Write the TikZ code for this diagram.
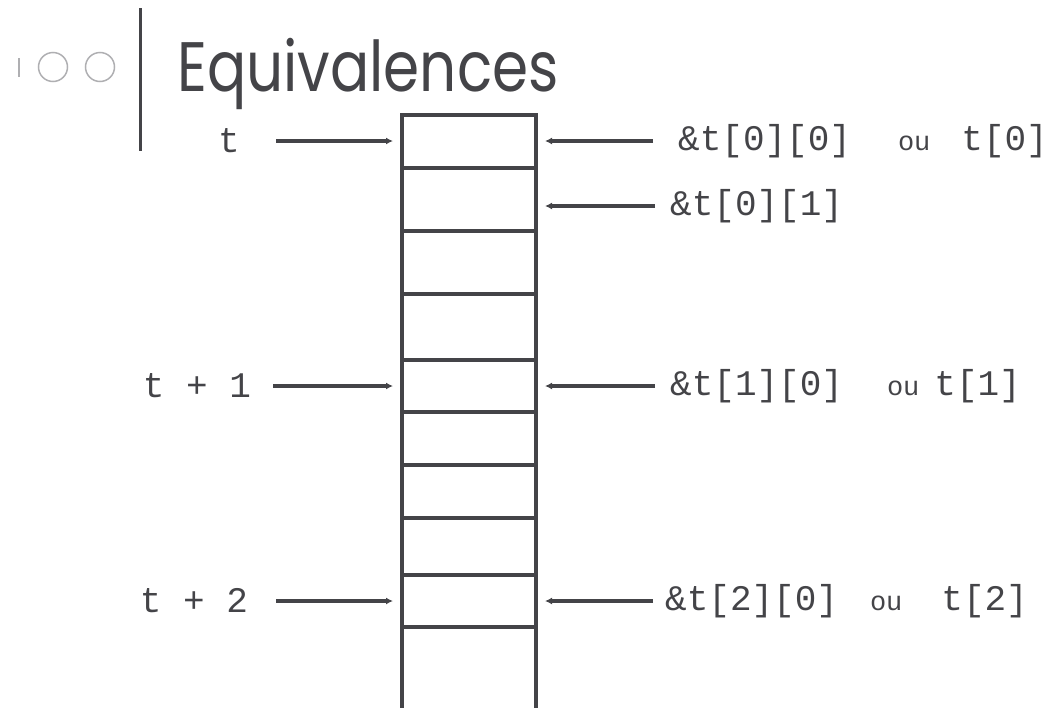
\documentclass[tikz,border=0pt]{standalone}
\usepackage{fontspec}
\setmonofont{Liberation Mono}
\newfontfamily\titlefont{Poppins}
\usetikzlibrary{arrows.meta, positioning}
\definecolor{ink}{RGB}{68,68,72}
\definecolor{deco}{RGB}{175,175,178}
\newcommand{\smallou}{{\fontsize{27}{27}\selectfont ou}}

\begin{document}
\begin{tikzpicture}[
    x=1pt, y=-1pt,
    cell/.style={draw=ink, line width=3.5pt, minimum width=134pt, inner sep=0pt, outer sep=0pt, anchor=north},
    lbl/.style={font=\ttfamily\fontsize{36}{36}\selectfont, text=ink, inner sep=0pt},
    dot/.style={circle, draw=deco, line width=1.5pt, minimum size=29pt, inner sep=0pt},
    arr/.style={-{Latex[length=7pt, width=7pt]}, draw=ink, line width=3.2pt}
]
\useasboundingbox (0,0) rectangle (1056,707);

% slide header
\draw[deco, line width=1.5pt] (19,58) -- (19,77);
\node[dot] (dot1) at (53,67) {};
\node[dot] (dot2) at (100,67) {};
\draw[ink, line width=3pt] (140,8) -- (140,151);
\node[font=\titlefont\fontsize{70}{70}\selectfont, text=ink, anchor=base west, inner sep=0pt] (title) at (177,91) {\scalebox{0.83}[1]{Equivalences}};

% memory cells
\foreach \n/\ya/\yb in {1/115/168, 2/168/231, 3/231/294, 4/294/360, 5/360/412, 6/412/465, 7/465/518, 8/518/575, 9/575/627}
    \node[cell, minimum height={(\yb-\ya)*1pt}] (c\n) at (469,\ya) {};
\draw[ink, line width=3.5pt] (c9.south west) -- ++(0,90) (c9.south east) -- ++(0,90);

% pointers on the left
\node[lbl] (lt) at (229,141) {t};
\node[lbl] (lt1) at (197,386) {t + 1};
\node[lbl] (lt2) at (194,601) {t + 2};

\draw[arr, shorten <=36pt, shorten >=9pt] (lt.east) -- (lt.east -| c1.west);
\draw[arr, shorten <=22pt, shorten >=9pt] (lt1.east) -- (lt1.east -| c5.west);
\draw[arr, shorten <=28pt, shorten >=9pt] (lt2.east) -- (lt2.east -| c9.west);

% addresses on the right
\node[lbl, anchor=west] (r1) at (678,141) {\&t[0][0]\hspace{47pt}\smallou\hspace{31pt}t[0]};
\node[lbl, anchor=west] (r2) at (670,206) {\&t[0][1]};
\node[lbl, anchor=west] (r3) at (670,386) {\&t[1][0]\hspace{44pt}\smallou\hspace{15pt}t[1]};
\node[lbl, anchor=west] (r4) at (665,601) {\&t[2][0]\hspace{32pt}\smallou\hspace{39pt}t[2]};

\draw[arr, shorten <=25pt, shorten >=9pt] (r1.west) -- (r1.west -| c1.east);
\draw[arr, shorten <=15pt, shorten >=9pt] (r2.west) -- (r2.west -| c2.east);
\draw[arr, shorten <=15pt, shorten >=9pt] (r3.west) -- (r3.west -| c5.east);
\draw[arr, shorten <=12pt, shorten >=9pt] (r4.west) -- (r4.west -| c9.east);
\end{tikzpicture}
\end{document}
